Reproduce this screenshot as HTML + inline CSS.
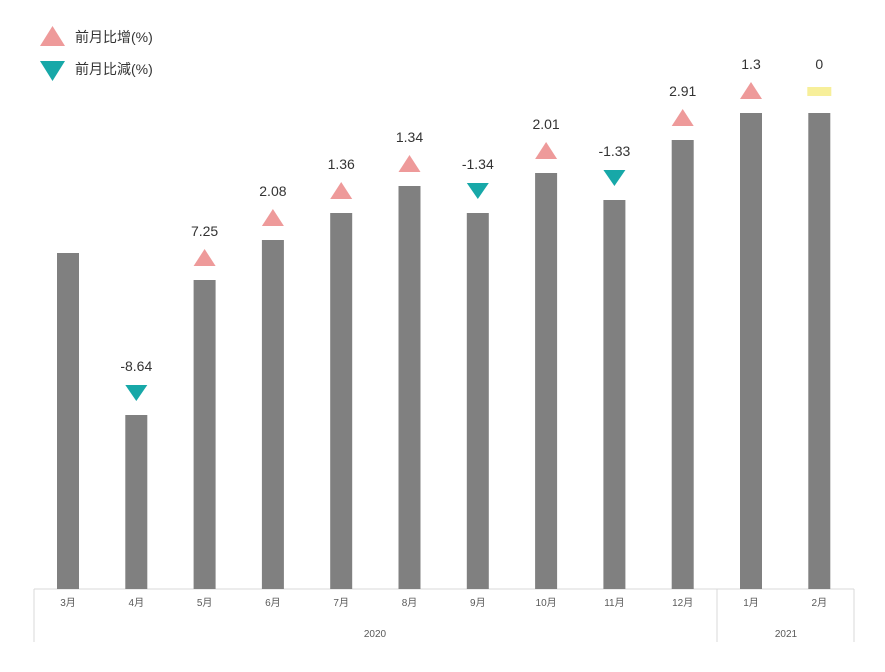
<!DOCTYPE html>
<html><head><meta charset="utf-8"><style>
html,body{margin:0;padding:0;background:#fff;}
svg{display:block;font-family:"Liberation Sans","Noto Sans CJK SC",sans-serif;}
</style></head><body>
<svg id="chart" width="885" height="672">
  <g>
    <polygon points="40,46 52.5,26 65,46" fill="#ee9a9a"/>
    <text x="75" y="42" font-size="14" fill="#333">前月比增(%)</text>
    <polygon points="40,61 65,61 52.5,81" fill="#17a8a8"/>
    <text x="75" y="74" font-size="14" fill="#333">前月比減(%)</text>
  </g>
  <g id="axis">
    <line x1="34" y1="589" x2="854" y2="589" stroke="#d9d9d9"/>
    <line x1="34" y1="589" x2="34" y2="642" stroke="#d9d9d9"/>
    <line x1="717" y1="589" x2="717" y2="642" stroke="#d9d9d9"/>
    <line x1="854" y1="589" x2="854" y2="642" stroke="#d9d9d9"/>
    <text x="375" y="637" font-size="10" fill="#595959" text-anchor="middle">2020</text>
    <text x="786" y="637" font-size="10" fill="#595959" text-anchor="middle">2021</text>
  </g>
  <g id="bars"></g>
</svg>
<script>
const categories = ["3月","4月","5月","6月","7月","8月","9月","10月","11月","12月","1月","2月"];
const barValues = [336,174,309,349,376,403,376,416,389,449,476,476];
const changeValues = [null,-8.64,7.25,2.08,1.36,1.34,-1.34,2.01,-1.33,2.91,1.3,0];
const changeLabels = ["","-8.64","7.25","2.08","1.36","1.34","-1.34","2.01","-1.33","2.91","1.3","0"];

const NS = "http://www.w3.org/2000/svg";
const baseY = 589, yMax = 476, plotH = 476;
const x0 = 68, step = 68.3, barW = 22;
function xScale(i){ return x0 + i*step; }
function yScale(v){ return baseY - v/yMax*plotH; }
const g = document.getElementById("bars");
function mk(tag, attrs){ const e=document.createElementNS(NS,tag); for(const k in attrs) e.setAttribute(k,attrs[k]); g.appendChild(e); return e; }

categories.forEach((c,i)=>{
  const cx = xScale(i), top = yScale(barValues[i]);
  const bar = mk("rect",{x:cx-barW/2,y:top,width:barW,height:baseY-top,fill:"#808080"});
  
  
  const lbl = mk("text",{x:cx,y:606,"font-size":10,fill:"#595959","text-anchor":"middle"});
  lbl.textContent = c;
  
  
  const v = changeValues[i];
  if (v === null) return;
  const my = top - 22;
  let m;
  if (v > 0) m = mk("polygon",{points:`${cx-11},${my+8} ${cx},${my-9} ${cx+11},${my+8}`,fill:"#ee9a9a"});
  else if (v < 0) m = mk("polygon",{points:`${cx-11},${my-8} ${cx+11},${my-8} ${cx},${my+8}`,fill:"#17a8a8"});
  else m = mk("rect",{x:cx-12,y:my-4,width:24,height:9,fill:"#f7ef9a"});
  
  
  const t = mk("text",{x:cx,y:top-44,"font-size":14,fill:"#333","text-anchor":"middle"});
  t.textContent = changeLabels[i];
  
  
});
</script>
</body></html>
